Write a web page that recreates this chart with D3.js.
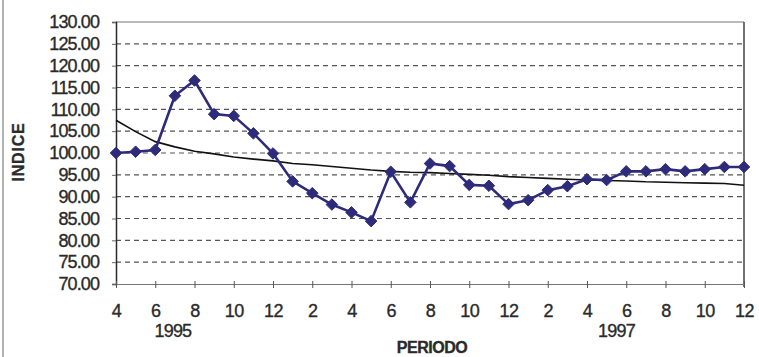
<!DOCTYPE html>
<html lang="en">
<head>
  <meta charset="UTF-8" />
  <title>INDICE por PERIODO</title>
  <script src="https://cdn.jsdelivr.net/npm/d3@7"></script>
  <style>
    html, body { margin: 0; padding: 0; background: #fff; }
    svg { display: block; }
    text { font-family: Arial, "Liberation Sans", sans-serif; fill: #2a2a2a; stroke: #2a2a2a; stroke-width: 0.35px; }
  </style>
</head>
<body>
  <script>
    // monthly periods Apr 1995 .. Dec 1997
    const months = [4,5,6,7,8,9,10,11,12,1,2,3,4,5,6,7,8,9,10,11,12,1,2,3,4,5,6,7,8,9,10,11,12];
    const indice = [100.0, 100.3, 100.7, 113.1, 116.6, 108.9, 108.5, 104.5, 99.9,
                    93.5, 90.8, 88.2, 86.4, 84.4, 95.7, 88.7, 97.6, 97.0, 92.7, 92.5, 88.3,
                    89.2, 91.5, 92.4, 94.0, 93.8, 95.8, 95.8, 96.3, 95.8, 96.3, 96.8, 96.8];
    const trend = [107.5, 104.9, 102.6, 101.4, 100.4, 99.8, 99.1, 98.6, 98.2, 97.6, 97.3,
                   96.9, 96.5, 96.1, 95.8, 95.6, 95.5, 95.3, 95.1, 94.9, 94.6, 94.4, 94.2,
                   94.0, 93.8, 93.7, 93.6, 93.4, 93.3, 93.2, 93.1, 93.0, 92.6];
    const yTicks = [70,75,80,85,90,95,100,105,110,115,120,125,130];
    const years = [{label: "1995", at: 2.9}, {label: "1997", at: 25.5}];

    const W = 759, H = 357;
    const m = {left: 116, right: 744, top: 22, bottom: 284};
    const ink = "#2a2a2a", navy = "#2d2b7a";

    const svg = d3.select("body").append("svg").attr("width", W).attr("height", H);

    const x = d3.scaleLinear().domain([0, months.length - 1]).range([m.left, m.right]);
    const y = d3.scaleLinear().domain([70, 130]).range([m.bottom, m.top]);

    // faint outer frame edge on the left
    svg.append("line").attr("x1", 3).attr("x2", 3).attr("y1", 0).attr("y2", H)
      .attr("stroke", "#999").attr("stroke-width", 1.5);

    // dashed gridlines
    svg.append("g").selectAll("line").data(yTicks.filter(d => d > 70 && d < 130)).join("line")
      .attr("x1", m.left).attr("x2", m.right)
      .attr("y1", d => y(d)).attr("y2", d => y(d))
      .attr("stroke", "#555").attr("stroke-width", 1.2).attr("stroke-dasharray", "5,4");

    // plot frame: top, right
    svg.append("line").attr("x1", m.left).attr("x2", m.right).attr("y1", m.top).attr("y2", m.top)
      .attr("stroke", "#777").attr("stroke-width", 1.2);
    svg.append("line").attr("x1", m.right).attr("x2", m.right).attr("y1", m.top).attr("y2", m.bottom + 3)
      .attr("stroke", "#444").attr("stroke-width", 1.5);

    // y axis
    const yAxis = svg.append("g").attr("transform", `translate(${m.left},0)`)
      .call(d3.axisLeft(y).tickValues(yTicks).tickFormat(d3.format(".2f")).tickSize(4).tickPadding(13));
    yAxis.select(".domain").attr("stroke", ink).attr("stroke-width", 1.5);
    yAxis.selectAll(".tick line").attr("stroke", "#666");
    yAxis.selectAll(".tick text").attr("font-size", 18).attr("letter-spacing", "-0.9px")
      .attr("fill", ink).style("font-family", "Arial, 'Liberation Sans', sans-serif");

    // x axis
    const xAxis = svg.append("g").attr("transform", `translate(0,${m.bottom})`)
      .call(d3.axisBottom(x).tickValues(d3.range(0, months.length, 2))
        .tickFormat(i => months[i]).tickSizeInner(4).tickSizeOuter(0).tickPadding(16));
    xAxis.select(".domain").attr("stroke", "#777").attr("stroke-width", 1.2);
    xAxis.selectAll(".tick line").attr("stroke", "#555").attr("y1", -3);
    xAxis.selectAll(".tick text").attr("font-size", 18).attr("fill", ink).attr("letter-spacing", "-0.5px")
      .style("font-family", "Arial, 'Liberation Sans', sans-serif");

    // year labels
    svg.append("g").selectAll("text").data(years).join("text")
      .attr("x", d => x(d.at)).attr("y", 337)
      .attr("text-anchor", "middle").attr("font-size", 18).attr("letter-spacing", "-0.8px")
      .text(d => d.label);

    // axis titles
    svg.append("text").attr("x", 432).attr("y", 353).attr("text-anchor", "middle")
      .attr("font-size", 16).attr("font-weight", "bold").attr("letter-spacing", "-0.5px")
      .text("PERIODO");
    svg.append("text").attr("transform", "translate(24,152) rotate(-90)")
      .attr("text-anchor", "middle").attr("font-size", 16).attr("font-weight", "bold")
      .attr("letter-spacing", "0.8px").text("INDICE");

    // trend line
    svg.append("path").datum(trend)
      .attr("d", d3.line().x((d, i) => x(i)).y(d => y(d)))
      .attr("fill", "none").attr("stroke", "#111").attr("stroke-width", 1.6);

    // series
    svg.append("path").datum(indice)
      .attr("d", d3.line().x((d, i) => x(i)).y(d => y(d)))
      .attr("fill", "none").attr("stroke", navy).attr("stroke-width", 2.6);

    svg.append("g").selectAll("path").data(indice).join("path")
      .attr("transform", (d, i) => `translate(${x(i)},${y(d)})`)
      .attr("d", d3.symbol(d3.symbolDiamond2, 85))
      .attr("fill", navy).attr("stroke", navy).attr("stroke-width", 1);
  </script>
</body>
</html>
